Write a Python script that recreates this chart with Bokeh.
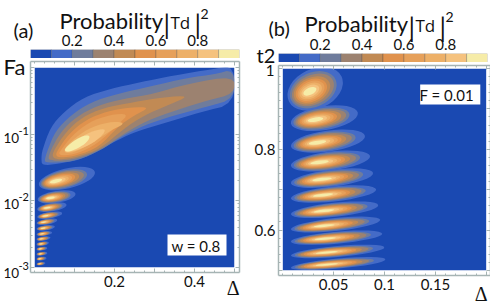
import math
from bokeh.embed import file_html
from bokeh.resources import INLINE
from bokeh.plotting import figure
from bokeh.layouts import row, column
from bokeh.models import Label, FixedTicker, LinearAxis, LogAxis, Range1d

# contour levels / colour scale
levels = [0.0, 0.1, 0.2, 0.3, 0.4, 0.5, 0.6, 0.7, 0.8, 0.9, 1.0]
colors = ["#1a49b2", "#446bc7", "#6f7c9c", "#9c8270", "#c18a54", "#e0924d", "#e6a05a", "#edb068", "#f5c27e", "#f6eca8"]
bar_ticks = [0.2, 0.4, 0.6, 0.8]

# Panel (a): main plume contours, (Delta, log10 F)
plume_a = [
 [(.017,-1.37),(.019,-1.245),(.040,-.895),(.073,-.67),(.123,-.445),(.190,-.32),(.265,-.22),(.348,-.12),(.448,-.02),(.5,.03),(.5,-.545),(.415,-.67),(.332,-.82),(.248,-.97),(.198,-1.12),(.161,-1.245),(.115,-1.385),(.057,-1.445),(.019,-1.47)],
 [(.025,-1.395),(.032,-1.245),(.053,-.945),(.09,-.72),(.14,-.52),(.207,-.395),(.29,-.285),(.382,-.155),(.448,-.105),(.5,-.02),(.5,-.47),(.432,-.585),(.348,-.72),(.273,-.87),(.215,-1.045),(.165,-1.245),(.107,-1.395),(.057,-1.43),(.028,-1.42)],
 [(.034,-1.37),(.04,-1.245),(.065,-.97),(.103,-.745),(.157,-.57),(.223,-.47),(.298,-.395),(.382,-.245),(.5,-.12),(.5,-.395),(.432,-.495),(.357,-.635),(.282,-.795),(.223,-.995),(.165,-1.235),(.107,-1.37),(.057,-1.405),(.04,-1.385)],
 [(.044,-1.345),(.048,-1.245),(.078,-.97),(.119,-.745),(.173,-.605),(.248,-.52),(.323,-.445),(.39,-.42),(.332,-.57),(.273,-.72),(.223,-.92),(.165,-1.22),(.107,-1.345),(.061,-1.385)],
 [(.053,-1.32),(.057,-1.245),(.086,-.995),(.128,-.785),(.182,-.655),(.24,-.595),(.29,-.595),(.248,-.72),(.207,-.895),(.161,-1.195),(.107,-1.32),(.065,-1.355)],
 [(.061,-1.295),(.065,-1.245),(.094,-1.02),(.136,-.82),(.19,-.705),(.236,-.695),(.211,-.845),(.157,-1.145),(.107,-1.295),(.069,-1.325)],
 [(.073,-1.22),(.103,-1.045),(.144,-.885),(.198,-.805),(.228,-.835),(.19,-.945),(.148,-1.12),(.107,-1.255),(.078,-1.295)],
 [(.073,-1.245),(.111,-1.055),(.153,-.935),(.182,-.92),(.157,-1.095),(.115,-1.225),(.082,-1.275)],
 [(.073,-1.23),(.098,-1.095),(.123,-1.02),(.14,-1.02),(.132,-1.12),(.107,-1.22),(.082,-1.27)],
]

# Panel (a): resonance lobes
a_peak_delta = [.0525,.04,.032,.0275,.023,.022,.019,.0175,.0167,.015,.015,.013,.013]
a_peak_logf = [-1.705,-1.955,-2.105,-2.225,-2.32,-2.41,-2.495,-2.57,-2.645,-2.72,-2.795,-2.87,-2.945]
a_min_delta = [.011,.008,.007,.007,.005,.005,.005,.005,.005,.005,.005,.005,.005]
a_max_delta = [.151,.1025,.08,.069,.057,.051,.044,.04,.036,.032,.032,.03,.027]
a_thick = [20,12,8.5,6.5,5.5,5,4.5,4,4,3.5,3.5,3.5,3]
a_tilt = [13,9,9,9,9,8,8,8,8,8,8,8,8]

# Panel (b): resonance lobes
b_peak_delta = [.028,.033,.035,.037,.040,.041,.042,.042,.043,.045,.045]
b_peak_t = [.945,.874,.817,.768,.726,.687,.648,.611,.579,.545,.515]
b_min_delta = [.006,.008,.008,.008,.008,.008,.008,.008,.008,.008,.008]
b_max_delta = [.058,.074,.081,.086,.089,.092,.094,.096,.098,.100,.101]
b_thick = [40,24,21,19,17,15,14,13,12,11,10]
b_tilt = [25,9,8,7,7,6,6,6,5,5,5]

# fractions of the outermost contour reached by each level
left_frac  = [1.0,.90,.82,.74,.66,.58,.50,.42,.34]
right_frac = [1.0,.80,.72,.60,.50,.42,.34,.26,.17]
thick_frac = [1.0,.86,.74,.64,.55,.46,.37,.28,.18]

# tick labels of the log axis in (a)
log_decades = [-3, -2, -1]

FONT = "Lato"
GREY = "#a6b4b4"


def chaikin(pts, n=2):
    for _ in range(n):
        out = []
        for i in range(len(pts)):
            a, b = pts[i], pts[(i + 1) % len(pts)]
            out.append((.75 * a[0] + .25 * b[0], .75 * a[1] + .25 * b[1]))
            out.append((.25 * a[0] + .75 * b[0], .25 * a[1] + .75 * b[1]))
        pts = out
    return pts


def lobes(p, pd, py, mn, mx, th, ti, px_x, y_shift):
    for k in range(9):
        xs, ys, ws, hs, an = [], [], [], [], []
        for i in range(len(pd)):
            lo = pd[i] - (pd[i] - mn[i]) * left_frac[k]
            hi = pd[i] + (mx[i] - pd[i]) * right_frac[k]
            cx = (lo + hi) / 2
            rad = math.radians(ti[i])
            xs.append(cx)
            ys.append(y_shift(py[i], (cx - pd[i]) * px_x * math.tan(rad)))
            ws.append((hi - lo) * px_x / math.cos(rad))
            hs.append(th[i] * thick_frac[k])
            an.append(rad)
        p.ellipse(xs, ys, width=ws, height=hs, angle=an, width_units="screen", height_units="screen",
                  fill_color=colors[k + 1], line_color=None)


overlay = figure(width=490, height=305, x_range=Range1d(0, 490), y_range=Range1d(305, 0), toolbar_location=None,
                 output_backend="svg", min_border=0, x_axis_location=None, y_axis_location=None,
                 outline_line_color=None, background_fill_color=None, border_fill_color=None)
overlay.grid.visible = False


def label(px, py, text, size, font=FONT, align="left", color="#111111"):
    overlay.add_layout(Label(x=px, y=py - 0.3 * size, text=text, text_font=font, text_font_size=f"{size}px",
                             text_align=align, text_baseline="alphabetic", text_color=color))


def style_axis(ax, size=14):
    ax.axis_line_color = GREY
    ax.axis_line_width = 1.5
    ax.major_tick_line_color = GREY
    ax.minor_tick_line_color = GREY
    ax.major_tick_in = 4
    ax.major_tick_out = 0
    ax.minor_tick_in = 2
    ax.minor_tick_out = 0
    ax.major_label_text_font = FONT
    ax.major_label_text_font_size = f"{size}px"
    ax.major_label_text_color = "#111111"
    ax.major_label_standoff = 3


def blank_axis(ax, ticks):
    style_axis(ax)
    ax.major_label_overrides = {t: "" for t in ticks}
    ax.major_label_standoff = 0


def bar(width, height, left, right, top):
    p = figure(width=width, height=height, frame_width=209, frame_height=9, x_range=(0, 1), y_range=(0, 1),
               toolbar_location=None, output_backend="svg", min_border_left=left, min_border_right=right,
               min_border_top=top, min_border_bottom=0, outline_line_color=None, x_axis_location="above",
               y_axis_location=None)
    p.grid.visible = False
    p.quad(left=levels[:-1], right=levels[1:], bottom=0, top=1, fill_color=colors, line_color="#333333",
           line_width=0.5, line_alpha=0.5)
    ax = p.xaxis[0]
    ax.ticker = FixedTicker(ticks=bar_ticks)
    ax.axis_line_color = None
    ax.major_tick_line_color = None
    ax.minor_tick_line_color = None
    ax.major_label_text_font = FONT
    ax.major_label_text_font_size = "15px"
    ax.major_label_text_color = "#111111"
    ax.major_label_standoff = -2
    return p


# ---------- panel (a)
FL, FT, FR, FB = 30, 61, 239, 272
bar_a = bar(245, 58, 30, 6, 49)

a = figure(width=245, height=247, frame_width=FR - FL, frame_height=FB - FT, toolbar_location=None, output_backend="svg",
           x_range=Range1d(-.01, .5125), y_range=Range1d(10 ** -3.075, 10 ** .09), y_axis_type="log",
           min_border_left=FL, min_border_right=245 - FR, min_border_top=FT - 58, min_border_bottom=305 - FB,
           outline_line_color=None, background_fill_color="white")
a.grid.visible = False
a.quad(left=[0], right=[.5], bottom=[1e-3], top=[1], fill_color=colors[0], line_color=None)
for k, poly in enumerate(plume_a):
    pts = chaikin(poly)
    a.patch([q[0] for q in pts], [10 ** q[1] for q in pts], fill_color=colors[k + 1], line_color=None)
lobes(a, a_peak_delta, a_peak_logf, a_min_delta, a_max_delta, a_thick, a_tilt, 400,
      lambda y, d: 10 ** (y + d / 66.67))
# white mat around the blue map
a.quad(left=[-.01, .5, -.01, -.01], right=[0, .5125, .5125, .5125], bottom=[10 ** -3.075, 10 ** -3.075, 10 ** -3.075, 1],
       top=[10 ** .09, 10 ** .09, 1e-3, 10 ** .09], fill_color="white", line_color=None)
a_xt = [.1, .2, .3, .4, .5]
a_xm = [i / 40 for i in range(0, 21)]
a_yt = [1e-3, 1e-2, 1e-1, 1.0]
a_ym = [m * 10.0 ** e for e in (-3, -2, -1) for m in range(2, 10)]
ax = a.xaxis[0]
style_axis(ax, 15)
ax.ticker = FixedTicker(ticks=a_xt, minor_ticks=a_xm)
ax.major_label_overrides = {.1: "", .2: "0.2", .3: "", .4: "0.4", .5: ""}
ay = a.yaxis[0]
blank_axis(ay, a_yt)
ay.ticker = FixedTicker(ticks=a_yt, minor_ticks=a_ym)
top = LinearAxis(ticker=FixedTicker(ticks=a_xt, minor_ticks=a_xm))
blank_axis(top, a_xt)
a.add_layout(top, "above")
rt = LogAxis(ticker=FixedTicker(ticks=a_yt, minor_ticks=a_ym))
blank_axis(rt, a_yt)
a.add_layout(rt, "right")
a.quad(left=[.3325], right=[.48], bottom=[10 ** -2.82], top=[10 ** -2.505], fill_color="white", line_color=None)
label(171, 250, "w = 0.8", 15)
label(239, 293, "Δ", 20, font="Liberation Serif", align="right")
label(3, 73, "Fa", 22)
for e, py in zip(log_decades, [277, 208, 142]):
    label(3, py, "10", 13.5)
    label(18, py - 8, str(e), 11)
label(13, 35, "(a)", 20)
label(59, 27, "Probability", 22)
label(163, 31, "|", 26)
label(170, 27, "Td", 17, font="Open Sans")
label(194, 31, "|", 26)
label(200, 18, "2", 14)

# ---------- panel (b)
GL, GT, GR, GB = 31, 65, 243, 275
bar_b = bar(245, 62, 33, 3, 53)
b = figure(width=245, height=243, frame_width=GR - GL, frame_height=GB - GT, toolbar_location=None, output_backend="svg",
           x_range=Range1d(-.004, .204), y_range=Range1d(.4875, 1.0075),
           min_border_left=GL, min_border_right=245 - GR, min_border_top=GT - 62, min_border_bottom=305 - GB,
           outline_line_color=None, background_fill_color="white")
b.grid.visible = False
b.quad(left=[0], right=[.2], bottom=[.5], top=[1], fill_color=colors[0], line_color=None)
lobes(b, b_peak_delta, b_peak_t, b_min_delta, b_max_delta, b_thick, b_tilt, 1015,
      lambda y, d: y + d / 406.0)
b.quad(left=[-.004, .2, -.004, -.004], right=[0, .204, .204, .204], bottom=[.4875, .4875, .4875, 1],
       top=[1.0075, 1.0075, .5, 1.0075], fill_color="white", line_color=None)
xt = [.05, .1, .15, .2]
xm = [i / 100 for i in range(0, 21)]
yt = [.5, .6, .7, .8, .9, 1.0]
ym = [.5 + i / 50 for i in range(0, 26)]
ax = b.xaxis[0]
style_axis(ax, 15)
ax.ticker = FixedTicker(ticks=xt, minor_ticks=xm)
ax.major_label_overrides = {.05: "0.05", .1: "0.1", .15: "0.15", .2: ""}
ay = b.yaxis[0]
style_axis(ay, 15)
ay.ticker = FixedTicker(ticks=yt, minor_ticks=ym)
ay.major_label_overrides = {.5: "", .6: "0.6", .7: "", .8: "0.8", .9: "", 1.0: ""}
top = LinearAxis(ticker=FixedTicker(ticks=xt, minor_ticks=xm))
blank_axis(top, xt)
b.add_layout(top, "above")
rt = LinearAxis(ticker=FixedTicker(ticks=yt, minor_ticks=ym))
blank_axis(rt, yt)
b.add_layout(rt, "right")
b.quad(left=[.135], right=[.194], bottom=[.911], top=[.9606], fill_color="white", line_color=None)
label(419, 99, "F = 0.01", 15)
label(487, 299, "Δ", 20, font="Liberation Serif", align="right")
label(268, 33, "(b)", 20)
label(304, 30, "Probability", 22)
label(408, 34, "|", 26)
label(415, 30, "Td", 17, font="Open Sans")
label(439, 34, "|", 26)
label(445, 21, "2", 14)
label(256, 60, "t2", 20)
label(274, 74, "1", 15, align="right")

overlay.margin = (-305, 0, 0, 0)
page = column(row(column(bar_a, a, spacing=0), column(bar_b, b, spacing=0), spacing=0), overlay, spacing=0)
open("out.html", "w").write(file_html(page, INLINE))
